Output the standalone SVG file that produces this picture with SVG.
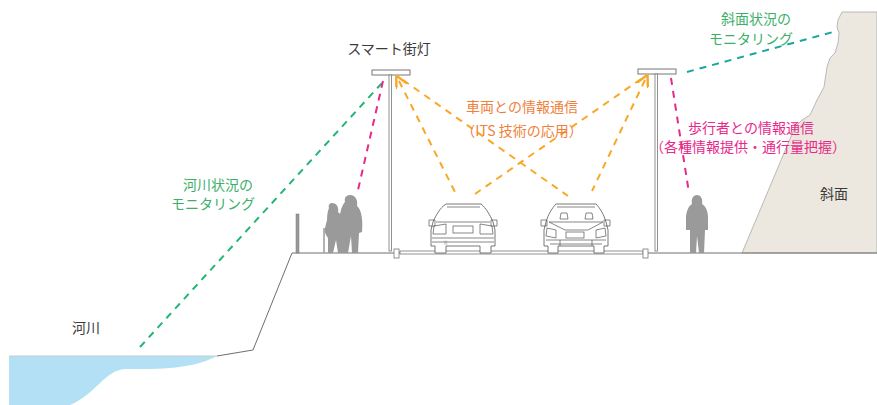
<svg xmlns="http://www.w3.org/2000/svg" width="877" height="405" viewBox="0 0 877 405">
<style>
  text { font-family: "Noto Sans CJK JP", "Noto Sans", sans-serif; font-size: 14px; }
  .dark { fill: #3a3a3a; }
  .green { fill: #3cb06a; }
  .orange { fill: #f07f3c; }
  .pink { fill: #e8288a; }
  .line { fill: none; stroke: #6e6e6e; stroke-width: 1; }
  .car { fill: #fff; stroke: #555; stroke-width: 0.8; }
  .carl { fill: none; stroke: #555; stroke-width: 0.7; }
  .fig { fill: #9a9a9a; }
  .dash { fill: none; stroke-width: 2; stroke-dasharray: 7 6; }
</style>
<defs>
  <marker id="arrowO" viewBox="0 0 10 10" refX="5" refY="5" markerWidth="6" markerHeight="6" orient="auto-start-reverse">
    <path d="M0,0 L10,5 L0,10" fill="none" stroke="#f9a825" stroke-width="2"/>
  </marker>
</defs>
<rect width="877" height="405" fill="#fff"/>

<!-- river water -->
<g id="river">
  <path d="M9,356 L217,356 C205,362 190,368 150,369 L125,369 C105,370 95,395 70,405 L9,405 Z" fill="#b3e0f5"/>
  <path d="M9,356 L217,356" stroke="#cccccc" stroke-width="1"/>
</g>

<!-- slope on the right -->
<g id="slope">
  <path d="M742,253 L795,127 L802,120 L810,115 L817,100 L824,87 L827,67 L830,58 L835,53 L838,43 L839,33 L837,27 L838,20 L842,12 L877,12 L877,253 Z" fill="#ece8df" stroke="#aaa" stroke-width="0.8"/>
</g>

<!-- ground profile -->
<g id="ground">
  <path class="line" d="M217,356 L253,350 L292,253 L877,253"/>
  <rect x="296" y="214" width="3" height="39" fill="#9a9a9a" stroke="#777" stroke-width="0.5"/>
  <rect x="400" y="251" width="243" height="3" fill="#fff" stroke="#777" stroke-width="0.8"/>
  <rect x="394" y="249" width="5" height="9" fill="#fff" stroke="#777" stroke-width="0.8"/>
  <rect x="643" y="249" width="5" height="9" fill="#fff" stroke="#777" stroke-width="0.8"/>
</g>

<!-- street lamps -->
<g id="lamp1">
  <rect x="372" y="70" width="38" height="5" fill="#fff" stroke="#777" stroke-width="1"/>
  <rect x="389" y="75" width="2.5" height="176" fill="#fff" stroke="#777" stroke-width="0.8"/>
</g>
<g id="lamp2">
  <rect x="638" y="69" width="38" height="5" fill="#fff" stroke="#777" stroke-width="1"/>
  <rect x="655" y="74" width="2.5" height="177" fill="#fff" stroke="#777" stroke-width="0.8"/>
</g>

<!-- pedestrians -->
<g id="elderly">
  <path class="fig" d="M350,195 C356,195 358,201 357,206 C362,210 363,222 362,232 L359,233 L358,253 L352,253 L351,236 L348,253 L342,253 L342,232 L340,215 C341,208 343,204 345,202 C344,198 346,195 350,195 Z"/>
  <path class="fig" d="M332,203 C337,203 339,208 338,212 C343,215 345,225 344,232 L343,253 L338,253 L336,240 L333,253 L328,253 L328,238 C326,235 324,232 325,228 L327,220 C327,214 328,210 329,208 C328,205 330,203 332,203 Z"/>
  <path d="M324,228 L324,253" stroke="#9a9a9a" stroke-width="1.5"/>
</g>
<g id="walker">
  <path class="fig" d="M697,195 C701,195 703,199 702,204 C706,206 708,212 708,218 L708,230 L705,230 L704,253 L699,253 L697,236 L696,253 L690,253 L690,230 L686,230 L686,216 C687,209 689,206 692,204 C691,199 693,195 697,195 Z"/>
</g>

<!-- cars -->
<g id="car1">
  <path class="car" d="M446,204 L481,204 C486,208 490,215 493,222 L495,230 L495,246 L491,246 L491,253 L480,253 L480,246 L446,246 L446,253 L435,253 L435,246 L431,246 L431,230 L433,222 C436,215 440,208 446,204 Z"/>
  <path class="carl" d="M447,207 L480,207 M436,222 L490,222 M429,220 L435,220 L435,226 L429,226 Z M491,220 L497,220 L497,226 L491,226 Z M434,226 L446,224 L446,234 L433,234 Z M492,226 L480,224 L480,234 L493,234 Z"/>
  <rect class="carl" x="453" y="226" width="20" height="7"/>
  <path class="carl" d="M432,238 L494,238 M432,242 L494,242"/>
  <text x="444" y="244" style="font-size:4px; fill:#555">|||</text>
</g>
<g id="car2">
  <path class="car" d="M556,204 L596,204 C600,208 604,215 606,222 L608,230 L608,246 L604,246 L604,253 L594,253 L594,246 L558,246 L558,253 L548,253 L548,246 L544,246 L544,230 L546,222 C548,215 552,208 556,204 Z"/>
  <path class="carl" d="M557,207 L595,207 M549,222 L603,222 M541,220 L547,220 L547,226 L541,226 Z M604,220 L610,220 L610,226 L604,226 Z M561,213 L567,213 L568,219 L560,219 Z M586,213 L592,213 L593,219 L585,219 Z M549,222 L565,230 L588,230 L603,222 M547,228 L556,230 L556,238 L546,236 Z M605,228 L596,230 L596,238 L606,236 Z"/>
  <rect class="carl" x="566" y="232" width="18" height="6" fill="#888"/>
  <path class="carl" d="M546,240 L606,240 M550,244 L602,244 M560,240 L560,246 M592,240 L592,246"/>
</g>

<!-- communication links -->
<g id="connectors">
  <path class="dash" stroke="#22b573" d="M140,347 L382,83"/>
  <path class="dash" stroke="#e8288a" d="M383,81 L358,190"/>
  <path class="dash" stroke="#f9a825" d="M399,81 L455,192" marker-start="url(#arrowO)"/>
  <path class="dash" stroke="#f9a825" d="M403,80 L568,196"/>
  <path class="dash" stroke="#f9a825" d="M641,79 L475,194"/>
  <path class="dash" stroke="#f9a825" d="M645,80 L592,191" marker-start="url(#arrowO)"/>
  <path class="dash" stroke="#1aa5a0" d="M687,72 L833,32"/>
  <path class="dash" stroke="#e8288a" d="M671,78 L689,193"/>
</g>

<!-- labels -->
<g id="labels">
  <text class="dark" x="389" y="54" text-anchor="middle">スマート街灯</text>
  <text class="orange" x="522" y="112" text-anchor="middle">車両との情報通信</text>
  <text class="orange" x="522" y="136" text-anchor="middle">（ITS 技術の応用）</text>
  <text class="pink" x="751" y="133" text-anchor="middle">歩行者との情報通信</text>
  <text class="pink" x="748" y="152" text-anchor="middle">（各種情報提供・通行量把握）</text>
  <text class="green" x="756" y="24" text-anchor="middle">斜面状況の</text>
  <text class="green" x="751" y="44" text-anchor="middle">モニタリング</text>
  <text class="green" x="218" y="190" text-anchor="middle">河川状況の</text>
  <text class="green" x="213" y="209" text-anchor="middle">モニタリング</text>
  <text class="dark" x="86" y="333" text-anchor="middle">河川</text>
  <text class="dark" x="834" y="199" text-anchor="middle">斜面</text>
</g>
</svg>
